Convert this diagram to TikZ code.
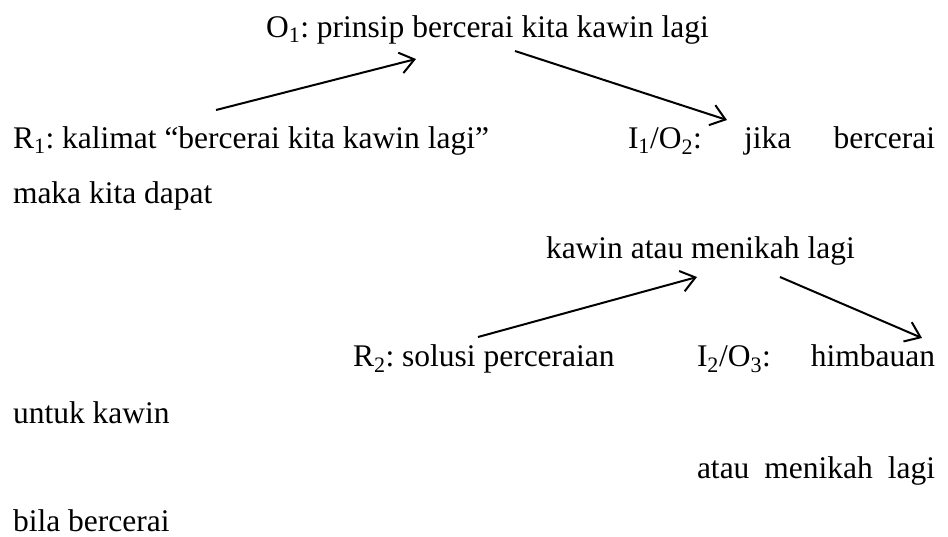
\documentclass[tikz,border=0pt]{standalone}
\usepackage{fontspec}
\setmainfont{Liberation Serif}
\usetikzlibrary{arrows.meta}
\tikzset{
  txt/.style={anchor=base west, inner sep=0pt, outer sep=0pt, font=\fontsize{31.5}{31.5}\selectfont\frenchspacing},
  txtr/.style={txt, anchor=base east},
  arr/.style={line width=2pt, -{Straight Barb[length=14pt,width=21pt,line width=2pt]}}
}
\begin{document}
\begin{tikzpicture}[x=1pt,y=-1pt]
  \useasboundingbox (0,0) rectangle (948,536);
  % text lines
  \node[txt] (o1) at (266,37) {O\textsubscript{1}: prinsip bercerai kita kawin lagi};
  \node[txt] (r1) at (13,148) {R\textsubscript{1}: kalimat “bercerai kita kawin lagi”};
  \node[txtr] (i1) at (935,148) {\makebox[307pt][s]{I\textsubscript{1}/O\textsubscript{2}: jika bercerai}};
  \node[txt] (maka) at (13,203) {maka kita dapat};
  \node[txt] (kawin) at (546,258) {kawin atau menikah lagi};
  \node[txt] (r2) at (353,366) {R\textsubscript{2}: solusi perceraian};
  \node[txtr] (i2) at (935,366) {\makebox[238pt][s]{I\textsubscript{2}/O\textsubscript{3}: himbauan}};
  \node[txt] (untuk) at (13,423) {untuk kawin};
  \node[txtr] (atau) at (935,478) {\makebox[238pt][s]{atau menikah lagi}};
  \node[txt] (bila) at (13,531) {bila bercerai};
  % arrow end points
  \coordinate (a1s) at (216,110);
  \coordinate (a1e) at (416,59);
  \coordinate (a2s) at (515,51);
  \coordinate (a2e) at (727,120);
  \coordinate (a3s) at (478,337);
  \coordinate (a3e) at (697,277);
  \coordinate (a4s) at (780,277);
  \coordinate (a4e) at (922,338);
  % arrows
  \draw[arr] (a1s) -- (a1e);
  \draw[arr] (a2s) -- (a2e);
  \draw[arr] (a3s) -- (a3e);
  \draw[arr] (a4s) -- (a4e);
\end{tikzpicture}
\end{document}
